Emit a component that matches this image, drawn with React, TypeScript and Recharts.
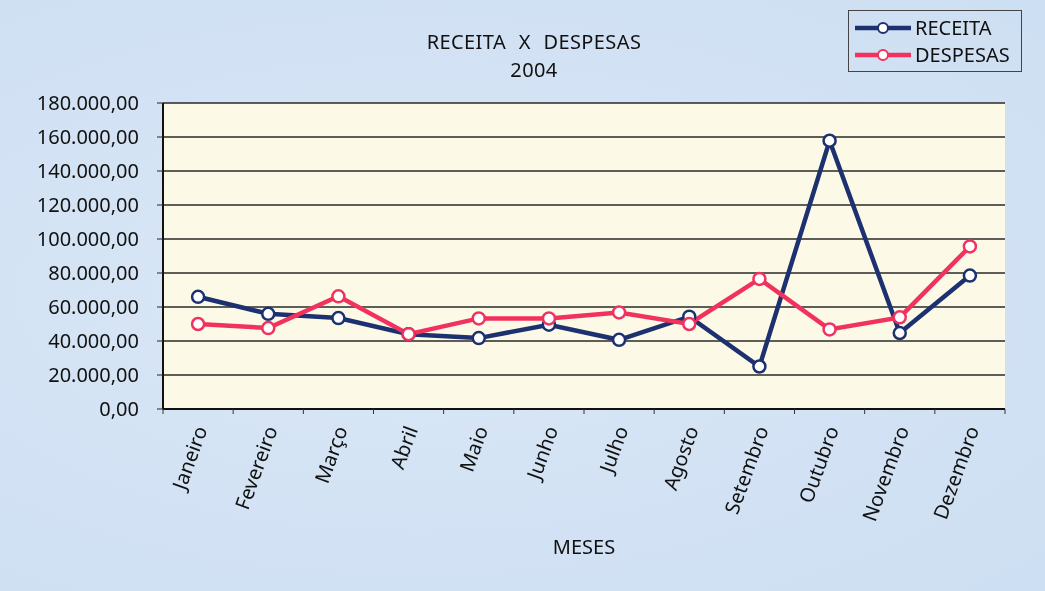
import { LineChart, Line, XAxis, YAxis, CartesianGrid } from "recharts";

const MONTHS = [
  "Janeiro", "Fevereiro", "Março", "Abril", "Maio", "Junho",
  "Julho", "Agosto", "Setembro", "Outubro", "Novembro", "Dezembro",
];
const RECEITA = [66000, 56000, 53500, 44000, 41700, 49600, 40700, 54300, 25000, 157800, 44700, 78500];
const DESPESAS = [50000, 47600, 66300, 44000, 53300, 53300, 56800, 50000, 76500, 46800, 53900, 95600];
const Y_TICKS = [0, 20000, 40000, 60000, 80000, 100000, 120000, 140000, 160000, 180000];
// category boundaries, Excel-style tick marks between months
const X_EDGES = [-0.5, 0.5, 1.5, 2.5, 3.5, 4.5, 5.5, 6.5, 7.5, 8.5, 9.5, 10.5, 11.5];

const NAVY = "#1d3170";
const PINK = "#f2325e";
const FONT = "'Noto Sans', sans-serif";
const PLOT_W = 842;
const BAND = PLOT_W / MONTHS.length;

const data = MONTHS.map((m, i) => ({
  idx: i,
  mes: m,
  receita: RECEITA[i],
  despesas: DESPESAS[i],
}));

function fmt(v: number) {
  const int = Math.round(v)
    .toString()
    .replace(/\B(?=(\d{3})+(?!\d))/g, ".");
  return `${int},00`;
}

function MonthTick(props: any) {
  const { x, y, payload } = props;
  const i = payload.value + 0.5;
  if (i >= MONTHS.length) return null;
  const cx = x + BAND / 2 + 3;
  const cy = y + 13;
  return (
    <text
      x={cx}
      y={cy}
      dy="0.35em"
      textAnchor="end"
      transform={`rotate(-70, ${cx}, ${cy})`}
      fill="#111"
      fontSize={20}
      fontFamily={FONT}
    >
      {MONTHS[i]}
    </text>
  );
}

function LegendBox() {
  const rows = [
    { name: "RECEITA", color: NAVY },
    { name: "DESPESAS", color: PINK },
  ];
  return (
    <div
      style={{
        position: "absolute",
        left: 848,
        top: 10,
        border: "1.5px solid #444",
        width: 174,
        height: 62,
        boxSizing: "border-box",
        padding: "3px 0 0 5px",
        fontFamily: FONT,
        fontSize: 20,
        color: "#111",
      }}
    >
      {rows.map((r) => (
        <div key={r.name} style={{ display: "flex", alignItems: "center", height: 27 }}>
          <svg width={58} height={14}>
            <line x1={1} y1={7} x2={57} y2={7} stroke={r.color} strokeWidth={4.5} />
            <circle cx={29} cy={7} r={5} fill="#fff" stroke={r.color} strokeWidth={2} />
          </svg>
          <span style={{ marginLeft: 3 }}>{r.name}</span>
        </div>
      ))}
    </div>
  );
}

const titleStyle = {
  position: "absolute" as const,
  left: 0,
  width: 1068,
  textAlign: "center" as const,
  fontFamily: FONT,
  fontSize: 20,
  lineHeight: "20px",
  letterSpacing: 0.4,
  color: "#111",
  wordSpacing: 7,
};

export default function App() {
  return (
    <div
      style={{
        position: "fixed",
        left: 0,
        top: 0,
        width: 1045,
        height: 591,
        background: "radial-gradient(ellipse at 40% 50%, #dbe8f6 0%, #d2e2f4 60%, #cddff2 100%)",
      }}
    >
      <div style={{ ...titleStyle, top: 32 }}>RECEITA X DESPESAS</div>
      <div style={{ ...titleStyle, top: 60 }}>2004</div>
      <LegendBox />
      <LineChart
        width={1045}
        height={591}
        data={data}
        margin={{ top: 103, right: 40, bottom: 32, left: 3 }}
      >
        <CartesianGrid
          horizontal
          vertical={false}
          stroke="#2a2a2a"
          strokeWidth={1.5}
          fill="#fcfae7"
          fillOpacity={1}
        />
        <XAxis
          dataKey="idx"
          type="number"
          domain={[-0.5, 11.5]}
          ticks={X_EDGES}
          interval={0}
          height={150}
          tick={<MonthTick />}
          tickSize={5}
          tickMargin={0}
          axisLine={{ stroke: "#111", strokeWidth: 2 }}
          tickLine={{ stroke: "#333" }}
          label={{
            value: "MESES",
            position: "insideBottom",
            offset: 5,
            fill: "#111",
            fontSize: 20,
            fontFamily: FONT,
          }}
        />
        <YAxis
          width={160}
          domain={[0, 180000]}
          ticks={Y_TICKS}
          interval={0}
          tickFormatter={fmt}
          tickSize={6}
          tickMargin={18}
          axisLine={{ stroke: "#111", strokeWidth: 2 }}
          tickLine={{ stroke: "#222" }}
          tick={{ fill: "#111", fontSize: 20, fontFamily: FONT }}
        />
        <YAxis
          yAxisId="frame"
          orientation="right"
          width={0}
          tick={false}
          tickLine={false}
          axisLine={{ stroke: "#555", strokeWidth: 1.5 }}
        />
        <Line
          dataKey="receita"
          name="RECEITA"
          stroke={NAVY}
          strokeWidth={4.5}
          dot={{ r: 6, fill: "#fff", stroke: NAVY, strokeWidth: 2.5 }}
          isAnimationActive={false}
        />
        <Line
          dataKey="despesas"
          name="DESPESAS"
          stroke={PINK}
          strokeWidth={4.5}
          dot={{ r: 6, fill: "#fff", stroke: PINK, strokeWidth: 2.5 }}
          isAnimationActive={false}
        />
      </LineChart>
    </div>
  );
}
